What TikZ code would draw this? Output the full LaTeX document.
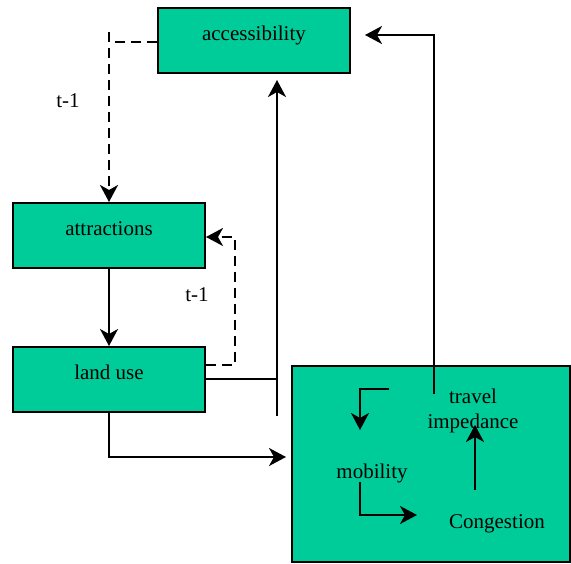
\documentclass[tikz,border=0pt]{standalone}
\usepackage{fontspec}
\setmainfont{Liberation Serif}
\usetikzlibrary{arrows.meta}
\definecolor{boxgreen}{RGB}{0,204,153}
\begin{document}
\begin{tikzpicture}[x=1pt,y=-1pt,
  every node/.style={font=\fontsize{21}{25}\selectfont},
  greenbox/.style={draw=black,line width=2pt,fill=boxgreen,minimum width=192pt,minimum height=65pt,
    text height=15pt,text depth=15pt,inner sep=0pt},
  txt/.style={inner sep=0pt,align=center},
  conn/.style={line width=2pt,-{Stealth[length=17pt,width=18pt,inset=5pt]}},
  plain/.style={line width=2pt},
  dsh/.style={dash pattern=on 10pt off 6pt}]
\useasboundingbox (0,0) rectangle (571,563);
% boxes
\node[greenbox] (acc) at (254,40.5) {accessibility};
\node[greenbox] (attr) at (109,235.5) {attractions};
\node[greenbox] (land) at (109,379.5) {land use};
\draw[line width=2pt,fill=boxgreen] (292,366) rectangle (570,562);
\coordinate (bigleft) at (286,457);
% texts inside big box
\node[txt,anchor=base] (trav) at (473,428) {travel\\impedance};
\node[txt,anchor=base] (mob) at (372,478) {mobility};
\node[txt,anchor=base] (cong) at (497,528) {Congestion};
% helper coordinates
\coordinate (stubtop) at (109,32);
\coordinate (acccorner) at (109,42);
\coordinate (travtop) at (434,394);
\coordinate (upbot) at (277,416);
\coordinate (ib1) at (389,389);
\coordinate (ib2) at (360,430);
\coordinate (mb1) at (360,482);
\coordinate (mb2) at (417,515);
\coordinate (cu1) at (475,490);
\coordinate (cu2) at (475,425);
% dashed accessibility -> attractions
\draw[plain] (stubtop) -- (acccorner);
\draw[plain,dsh] (acc.west |- acccorner) -- (acccorner);
\draw[conn,dsh,dash phase=10pt] (acccorner) -- (attr.north -| acccorner);
\node[txt] (t1a) at (68,101) {t-1};
% attractions -> land use
\draw[conn] (attr.south) -- (land.north);
% dashed land use -> attractions
\draw[conn,dsh] (land.east |- 0,365) -| (235,237) -- (attr.east |- 0,237);
\node[txt] (t1b) at (197,295) {t-1};
% land use -> accessibility
\draw[plain] (land.east |- 0,379) -- (277,379);
\draw[conn] (upbot) -- ([yshift=-6pt]acc.south -| upbot);
% land use -> big box
\draw[conn] (land.south) |- (bigleft);
% travel impedance -> accessibility
\draw[conn] (travtop) |- ([xshift=14pt]acc.east |- 0,35);
% inner arrows
\draw[conn] (ib1) -| (ib2);
\draw[conn] (mb1) |- (mb2);
\draw[conn] (cu1) -- (cu2);
\end{tikzpicture}
\end{document}
